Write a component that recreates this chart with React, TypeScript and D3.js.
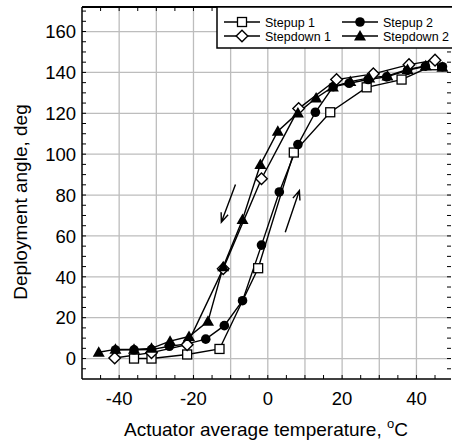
import React from "react";
import * as d3 from "d3";

const stepup1T = [-36, -31.3, -21.7, -13, -2.6, 7, 16.8, 26.6, 36, 44.5];
const stepup1V = [0, 0, 2, 4.7, 44.2, 100.8, 120.5, 132.7, 136.5, 143.5];

const stepup2T = [-41, -36, -31.3, -26.5, -21.7, -16.7, -11.7, -6.8, -1.7, 3.1, 8.1, 12.8, 17.6, 21.9, 27, 32, 37.6, 42.4, 47];
const stepup2V = [4.2, 4.3, 4.4, 6, 7.2, 9.5, 16.1, 28.3, 55.5, 81.5, 104.7, 120.5, 133, 134.7, 136.5, 137.8, 141, 143, 142.8];

const stepdown1T = [-41.2, -31.3, -21.7, -12, -1.7, 8.3, 18.5, 28.4, 38, 45];
const stepdown1V = [0.3, 2.9, 6.8, 44, 88, 122.3, 136.5, 139.3, 143.8, 146];

const stepdown2T = [-45.5, -41, -36, -31.3, -26.3, -21.2, -16.1, -12, -6.8, -2, 2.7, 8.1, 13, 17.5, 22.2, 27.3, 32.2, 37.6, 42.5, 47];
const stepdown2V = [3.1, 4.5, 4.5, 5, 8.5, 10.8, 18.2, 44.9, 68, 94.9, 111.2, 120.2, 127.5, 132.9, 135.5, 137.3, 138.3, 141.4, 143.2, 142.5];

const seriesNames = ["Stepup 1", "Stepup 2", "Stepdown 1", "Stepdown 2"];

const xTicks = [-40, -20, 0, 20, 40];
const yTicks = [0, 20, 40, 60, 80, 100, 120, 140, 160];

// arrows: [t0, v0, t1, v1] (tip at t1, v1)
const arrowDown = [-8.7, 85.1, -12.5, 66.7];
const arrowUp = [4.7, 61.8, 8.5, 82.2];

const W = 452;
const H = 445;
const FONT = "'Liberation Sans', Arial, sans-serif";

function Marker({ kind, x, y }: { kind: string; x: number; y: number }) {
  if (kind === "square")
    return <rect x={x - 4.5} y={y - 4.5} width={9} height={9} fill="white" stroke="black" strokeWidth={1.3} />;
  if (kind === "circle") return <circle cx={x} cy={y} r={4.8} fill="black" />;
  if (kind === "diamond")
    return (
      <path d={`M${x},${y - 5.8}L${x + 5.8},${y}L${x},${y + 5.8}L${x - 5.8},${y}Z`} fill="white" stroke="black" strokeWidth={1.4} />
    );
  return <path d={`M${x},${y - 6}L${x + 6},${y + 4.5}L${x - 6},${y + 4.5}Z`} fill="black" />;
}

export default function App() {
  const x = d3.scaleLinear().domain([-50, 49.3]).range([82, 451]);
  const y = d3.scaleLinear().domain([-10, 172]).range([379, 7]);
  const line = d3
    .line<[number, number]>()
    .x((d) => x(d[0]))
    .y((d) => y(d[1]));

  const series = [
    { t: stepup1T, v: stepup1V, kind: "square" },
    { t: stepup2T, v: stepup2V, kind: "circle" },
    { t: stepdown1T, v: stepdown1V, kind: "diamond" },
    { t: stepdown2T, v: stepdown2V, kind: "triangle" },
  ];

  const gridX = d3.range(-40, 50, 10);
  const gridY = d3.range(0, 172, 20);
  const minorX = d3.range(-45, 49.3, 5);
  const minorY = d3.range(-5, 172, 5);

  const [x0, x1] = x.range();
  const [y0, y1] = y.range();

  const arrow = (a: number[], key: string) => {
    const sx = x(a[0]), sy = y(a[1]), ex = x(a[2]), ey = y(a[3]);
    const ang = Math.atan2(ey - sy, ex - sx);
    const L = 10, spread = 0.38;
    const h1x = ex - L * Math.cos(ang - spread), h1y = ey - L * Math.sin(ang - spread);
    const h2x = ex - L * Math.cos(ang + spread), h2y = ey - L * Math.sin(ang + spread);
    return (
      <path key={key} d={`M${sx},${sy}L${ex},${ey}M${h1x},${h1y}L${ex},${ey}L${h2x},${h2y}`} fill="none" stroke="black" strokeWidth={1.4} />
    );
  };

  const legendItems = [
    { name: seriesNames[0], kind: "square", lx: 224, ly: 22 },
    { name: seriesNames[1], kind: "circle", lx: 342, ly: 22 },
    { name: seriesNames[2], kind: "diamond", lx: 224, ly: 36 },
    { name: seriesNames[3], kind: "triangle", lx: 342, ly: 36 },
  ];

  return (
    <svg width={W} height={H} style={{ position: "absolute", left: 0, top: 0, background: "white" }} fontFamily={FONT}>
      <rect width={W} height={H} fill="white" />
      {/* grid */}
      {gridX.map((g) => (
        <line key={"gx" + g} x1={x(g)} x2={x(g)} y1={y0} y2={y1} stroke="#bdbdbd" strokeWidth={1.3} />
      ))}
      {gridY.map((g) => (
        <line key={"gy" + g} x1={x0} x2={x1} y1={y(g)} y2={y(g)} stroke="#bdbdbd" strokeWidth={1.3} />
      ))}
      {/* minor ticks */}
      {minorX.map((g) => (
        <g key={"mx" + g}>
          <line x1={x(g)} x2={x(g)} y1={y0} y2={y0 - 4} stroke="black" strokeWidth={1} />
          <line x1={x(g)} x2={x(g)} y1={y1} y2={y1 + 4} stroke="black" strokeWidth={1} />
        </g>
      ))}
      {minorY.map((g) => (
        <g key={"my" + g}>
          <line x1={x0} x2={x0 + 4} y1={y(g)} y2={y(g)} stroke="black" strokeWidth={1} />
          <line x1={x1} x2={x1 - 4} y1={y(g)} y2={y(g)} stroke="black" strokeWidth={1} />
        </g>
      ))}
      {/* frame */}
      <line x1={x0} x2={x0} y1={y0} y2={y1} stroke="black" strokeWidth={1.5} />
      <line x1={x0} x2={x1} y1={y0} y2={y0} stroke="black" strokeWidth={1.5} />
      <line x1={x0} x2={W} y1={y1} y2={y1} stroke="black" strokeWidth={2} />
      {/* tick labels */}
      {xTicks.map((t) => (
        <text key={"xt" + t} x={x(t)} y={405} fontSize={18.5} textAnchor="middle">
          {t}
        </text>
      ))}
      {yTicks.map((t) => (
        <text key={"yt" + t} x={76} y={y(t) + 6.7} fontSize={18.5} textAnchor="end">
          {t}
        </text>
      ))}
      {/* axis titles */}
      <text x={266} y={436} fontSize={19} textAnchor="middle">
        Actuator average temperature, <tspan dy={-8} fontSize={13}>o</tspan>
        <tspan dy={8}>C</tspan>
      </text>
      <text transform="translate(27,202) rotate(-90)" fontSize={19} textAnchor="middle">
        Deployment angle, deg
      </text>
      {/* lines */}
      {series.map((s, i) => (
        <path
          key={"l" + i}
          d={line(s.t.map((t, j) => [t, s.v[j]] as [number, number])) || ""}
          fill="none"
          stroke="black"
          strokeWidth={1.4}
        />
      ))}
      {/* markers */}
      {series.map((s, i) => (
        <g key={"m" + i}>
          {s.t.map((t, j) => (
            <Marker key={j} kind={s.kind} x={x(t)} y={y(s.v[j])} />
          ))}
        </g>
      ))}
      {/* arrows */}
      {arrow(arrowDown, "a1")}
      {arrow(arrowUp, "a2")}
      {/* legend */}
      <rect x={217} y={7} width={240} height={41} fill="white" stroke="black" strokeWidth={1.5} />
      {legendItems.map((it) => (
        <g key={it.name}>
          <line x1={it.lx} x2={it.lx + 36} y1={it.ly} y2={it.ly} stroke="black" strokeWidth={1.4} />
          <Marker kind={it.kind} x={it.lx + 18} y={it.ly} />
          <text x={it.lx + 41} y={it.ly + 4.5} fontSize={12.5}>
            {it.name}
          </text>
        </g>
      ))}
    </svg>
  );
}
